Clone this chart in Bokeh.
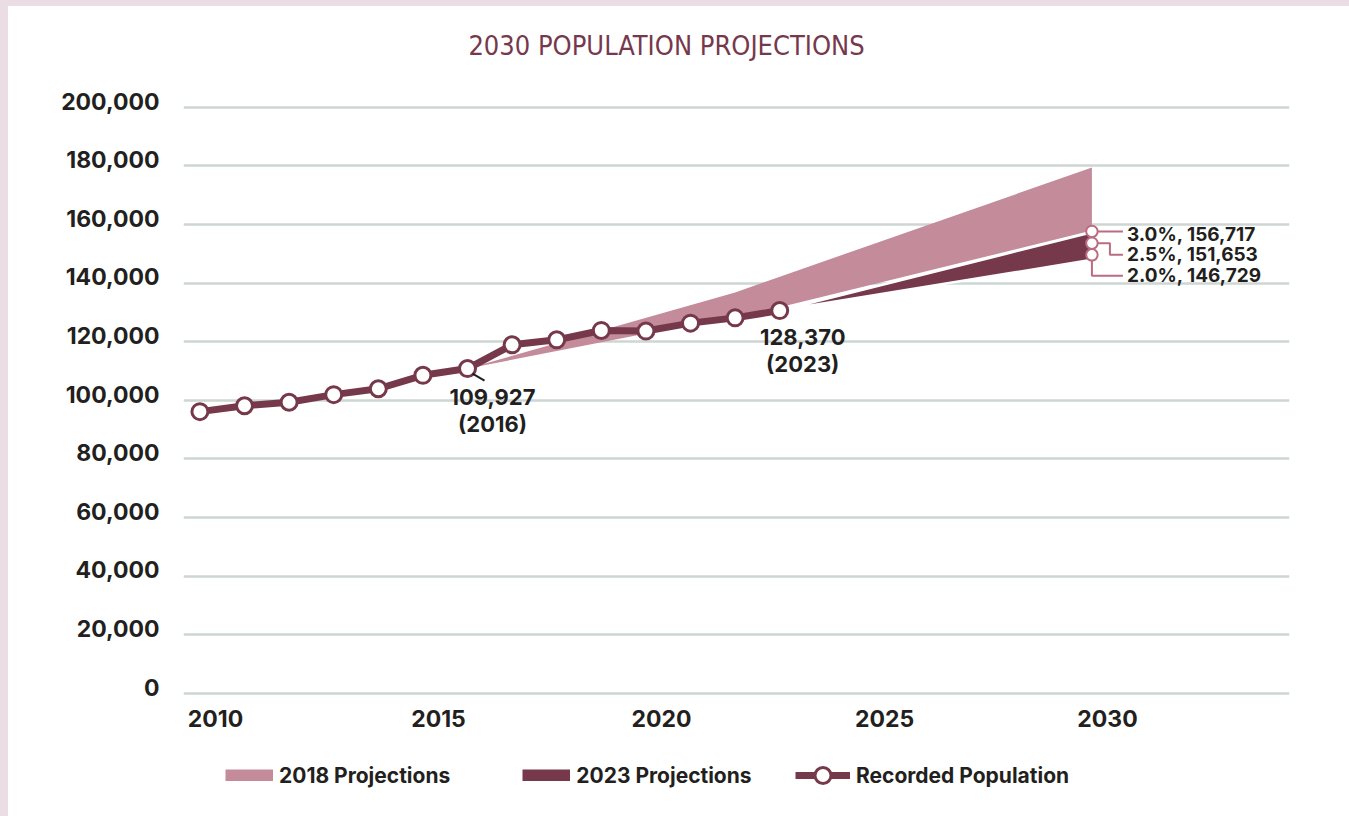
from bokeh.plotting import figure
from bokeh.layouts import column
from bokeh.models import FixedTicker, Legend, LegendItem, Range1d
from bokeh.embed import file_html
from bokeh.resources import INLINE
from bokeh.core.properties import value

# ---------------- data ----------------
YEARS = list(range(2010, 2024))
RECORDED = [96100, 98100, 99300, 101900, 103900, 108500, 110800,
            118900, 120600, 123800, 123600, 126300, 128100, 130600]

P2018_HIGH_YEARS = [2016, 2019, 2022, 2030]
P2018_HIGH = [110800, 123800, 136800, 179400]
P2018_LOW_YEARS = [2016, 2023, 2030]
P2018_LOW = [110800, 131700, 157900]

P2023_YEARS = [2023, 2030]
P2023_HIGH = [130600, 157300]
P2023_LOW = [130600, 147900]

RATE_LABELS = ["3.0%, 156,717", "2.5%, 151,653", "2.0%, 146,729"]
RATE_MARKERS = [157600, 153600, 149600]
RATE_YEAR = 2030

NOTE_2016 = "109,927\n(2016)"
NOTE_2023 = "128,370\n(2023)"

Y_TICKS = [0, 20000, 40000, 60000, 80000, 100000, 120000, 140000, 160000, 180000, 200000]
X_TICKS = [2010, 2015, 2020, 2025, 2030]

TITLE = "2030 POPULATION PROJECTIONS"
LEGEND_LABELS = ["2018 Projections", "2023 Projections", "Recorded Population"]

# ---------------- style ----------------
MAROON = "#76394C"
PINK = "#C48B9B"
ANNOT_PINK = "#B96C82"
GRID = "#CDD6D3"
TEXT = "#231F20"
PAGE_BG = "#EADDE4"
FONT = "Inter"
TITLE_FONT = "'DejaVu Sans Condensed', 'Liberation Sans Narrow', 'Open Sans', sans-serif"
NAN = float("nan")
WHITE_BOX = {"background-color": "white"}

W = 1341
H1, H2 = 740, 70
ML, MR, MT, MB = 175, 60, 0, 49
FW, FH = W - ML - MR, H1 - MT - MB
X_START, X_END = 2009.632, 2034.43
DY0 = 200000 / 586.0
Y_START = -4.3 * DY0
Y_END = Y_START + FH * DY0
DX = (X_END - X_START) / FW     # years per pixel
DY = (Y_END - Y_START) / FH     # people per pixel

p = figure(width=W, height=H1, output_backend="svg", toolbar_location=None,
           x_range=Range1d(X_START, X_END), y_range=Range1d(Y_START, Y_END),
           min_border_left=ML, min_border_right=MR,
           min_border_top=MT, min_border_bottom=MB, styles=WHITE_BOX)
p.outline_line_color = None
p.background_fill_color = "white"
p.border_fill_color = "white"

# grid
p.xgrid.visible = False
p.ygrid.ticker = FixedTicker(ticks=Y_TICKS)
p.ygrid.grid_line_color = GRID
p.ygrid.grid_line_width = 2.5

# axes
y_off = round(6 * DY)
p.yaxis.ticker = FixedTicker(ticks=[t + y_off for t in Y_TICKS])
p.yaxis.major_label_overrides = {t + y_off: f"{t:,}" for t in Y_TICKS}
x_off = round(15.6 * DX, 3)
p.xaxis.ticker = FixedTicker(ticks=[t + x_off for t in X_TICKS])
p.xaxis.major_label_overrides = {t + x_off: str(t) for t in X_TICKS}
for ax in (p.xaxis[0], p.yaxis[0]):
    ax.axis_line_color = None
    ax.major_tick_line_color = None
    ax.minor_tick_line_color = None
    ax.major_tick_out = 0
    ax.major_tick_in = 0
    ax.major_label_text_font = FONT
    ax.major_label_text_font_style = "bold"
    ax.major_label_text_font_size = "23px"
    ax.major_label_text_color = TEXT
p.yaxis.major_label_standoff = 24
p.xaxis.major_label_standoff = 12

# title (inside the frame, which reaches the top of the figure)
p.text(x=[X_START + 483 * DX], y=[Y_START + (FH - 38.5) * DY], text=[TITLE],
       text_font=value(TITLE_FONT), text_font_size="27px", text_color=MAROON,
       text_align="center", text_baseline="middle")

# 2018 projections band
band18_x = P2018_HIGH_YEARS + P2018_LOW_YEARS[::-1]
band18_y = P2018_HIGH + P2018_LOW[::-1]
p.patch(band18_x, band18_y, fill_color=PINK, line_color=None)

# 2023 projections band (+ white outline)
band23_x = P2023_YEARS + P2023_YEARS[::-1] + P2023_YEARS[:1]
band23_y = P2023_HIGH + P2023_LOW[::-1] + P2023_HIGH[:1]
p.patch(band23_x[:-1], band23_y[:-1], fill_color=MAROON, line_color=None)
p.line(band23_x, band23_y, line_color="white", line_width=2.5, line_join="miter")

# recorded population
p.line(YEARS, RECORDED, line_color=MAROON, line_width=7)
p.scatter(YEARS, RECORDED, size=16, fill_color="white",
          line_color=MAROON, line_width=3)

# 2016 leader line
i16 = YEARS.index(2016)
p.segment(x0=[2016 + 5 * DX], y0=[RECORDED[i16] - 5 * DY],
          x1=[2016 + 17 * DX], y1=[RECORDED[i16] - 12 * DY],
          line_color=TEXT, line_width=2)

# point notes
i23 = YEARS.index(2023)
p.text(x=[2016 + 25 * DX, 2023 + 23 * DX],
       y=[RECORDED[i16] - 15 * DY, RECORDED[i23] - 13 * DY],
       text=[NOTE_2016, NOTE_2023],
       text_font=value(FONT), text_font_style="bold", text_font_size="22px",
       text_color=TEXT, text_align="center", text_baseline="top",
       text_line_height=1.05)

# rate call-outs at 2030
m0, m1, m2 = RATE_MARKERS
lab_y = [m0 - 3 * DY, m2, m2 - 21 * DY]
tx = RATE_YEAR + 31 * DX
p.multi_line(xs=[[RATE_YEAR, tx],
                 [RATE_YEAR, RATE_YEAR + 18 * DX, RATE_YEAR + 18 * DX, tx],
                 [RATE_YEAR, RATE_YEAR, tx]],
             ys=[[m0, m0],
                 [m1, m1, lab_y[1], lab_y[1]],
                 [m2, lab_y[2], lab_y[2]]],
             line_color=ANNOT_PINK, line_width=2)
p.scatter([RATE_YEAR] * 3, RATE_MARKERS, size=11.5, fill_color="white",
          line_color=ANNOT_PINK, line_width=2)
p.text(x=[RATE_YEAR + 35 * DX] * 3, y=lab_y, text=RATE_LABELS,
       text_font=value(FONT), text_font_style="bold", text_font_size="19px",
       text_color=TEXT, text_align="left", text_baseline="middle")

# ---------------- legend strip ----------------
lg = figure(width=W, height=H2, output_backend="svg", toolbar_location=None,
            x_range=Range1d(0, 1), y_range=Range1d(0, 1),
            x_axis_type=None, y_axis_type=None,
            min_border_left=0, min_border_right=0,
            min_border_top=0, min_border_bottom=0, styles=WHITE_BOX)
lg.outline_line_color = None
lg.background_fill_color = "white"
lg.border_fill_color = "white"

k18 = lg.line([NAN], [NAN], line_color=PINK, line_width=12)
k23 = lg.line([NAN], [NAN], line_color=MAROON, line_width=12)
kl = lg.line([NAN], [NAN], line_color=MAROON, line_width=7)
ks = lg.scatter([NAN], [NAN], size=16, fill_color="white",
                line_color=MAROON, line_width=3)

common = dict(orientation="horizontal", padding=0, margin=0,
              border_line_color=None, background_fill_alpha=0,
              label_text_font=FONT, label_text_font_style="bold",
              label_text_font_size="21px", label_text_color=TEXT,
              label_standoff=6)
LEG_CY = H2 - 29   # legend centre, measured up from the strip's bottom
# the strip's frame is aligned with the chart frame by the column layout
legA = Legend(items=[LegendItem(label=LEGEND_LABELS[0], renderers=[k18]),
                     LegendItem(label=LEGEND_LABELS[1], renderers=[k23])],
              location=(42, LEG_CY - 12.5), glyph_width=48, glyph_height=12,
              spacing=72, **common)
legB = Legend(items=[LegendItem(label=LEGEND_LABELS[2], renderers=[kl, ks])],
              location=(612, LEG_CY - 20), glyph_width=55, glyph_height=40,
              **common)
lg.add_layout(legA)
lg.add_layout(legB)

layout = column(p, lg, spacing=0, styles=WHITE_BOX)

html = file_html(layout, INLINE, title="2030 Population Projections")
style = ("<style>html,body{overflow:hidden !important;}"
         "body{margin:6px 0 0 8px !important;background:%s !important;}</style>" % PAGE_BG)
html = html.replace("</head>", style + "</head>", 1)
open("out.html", "w").write(html)
